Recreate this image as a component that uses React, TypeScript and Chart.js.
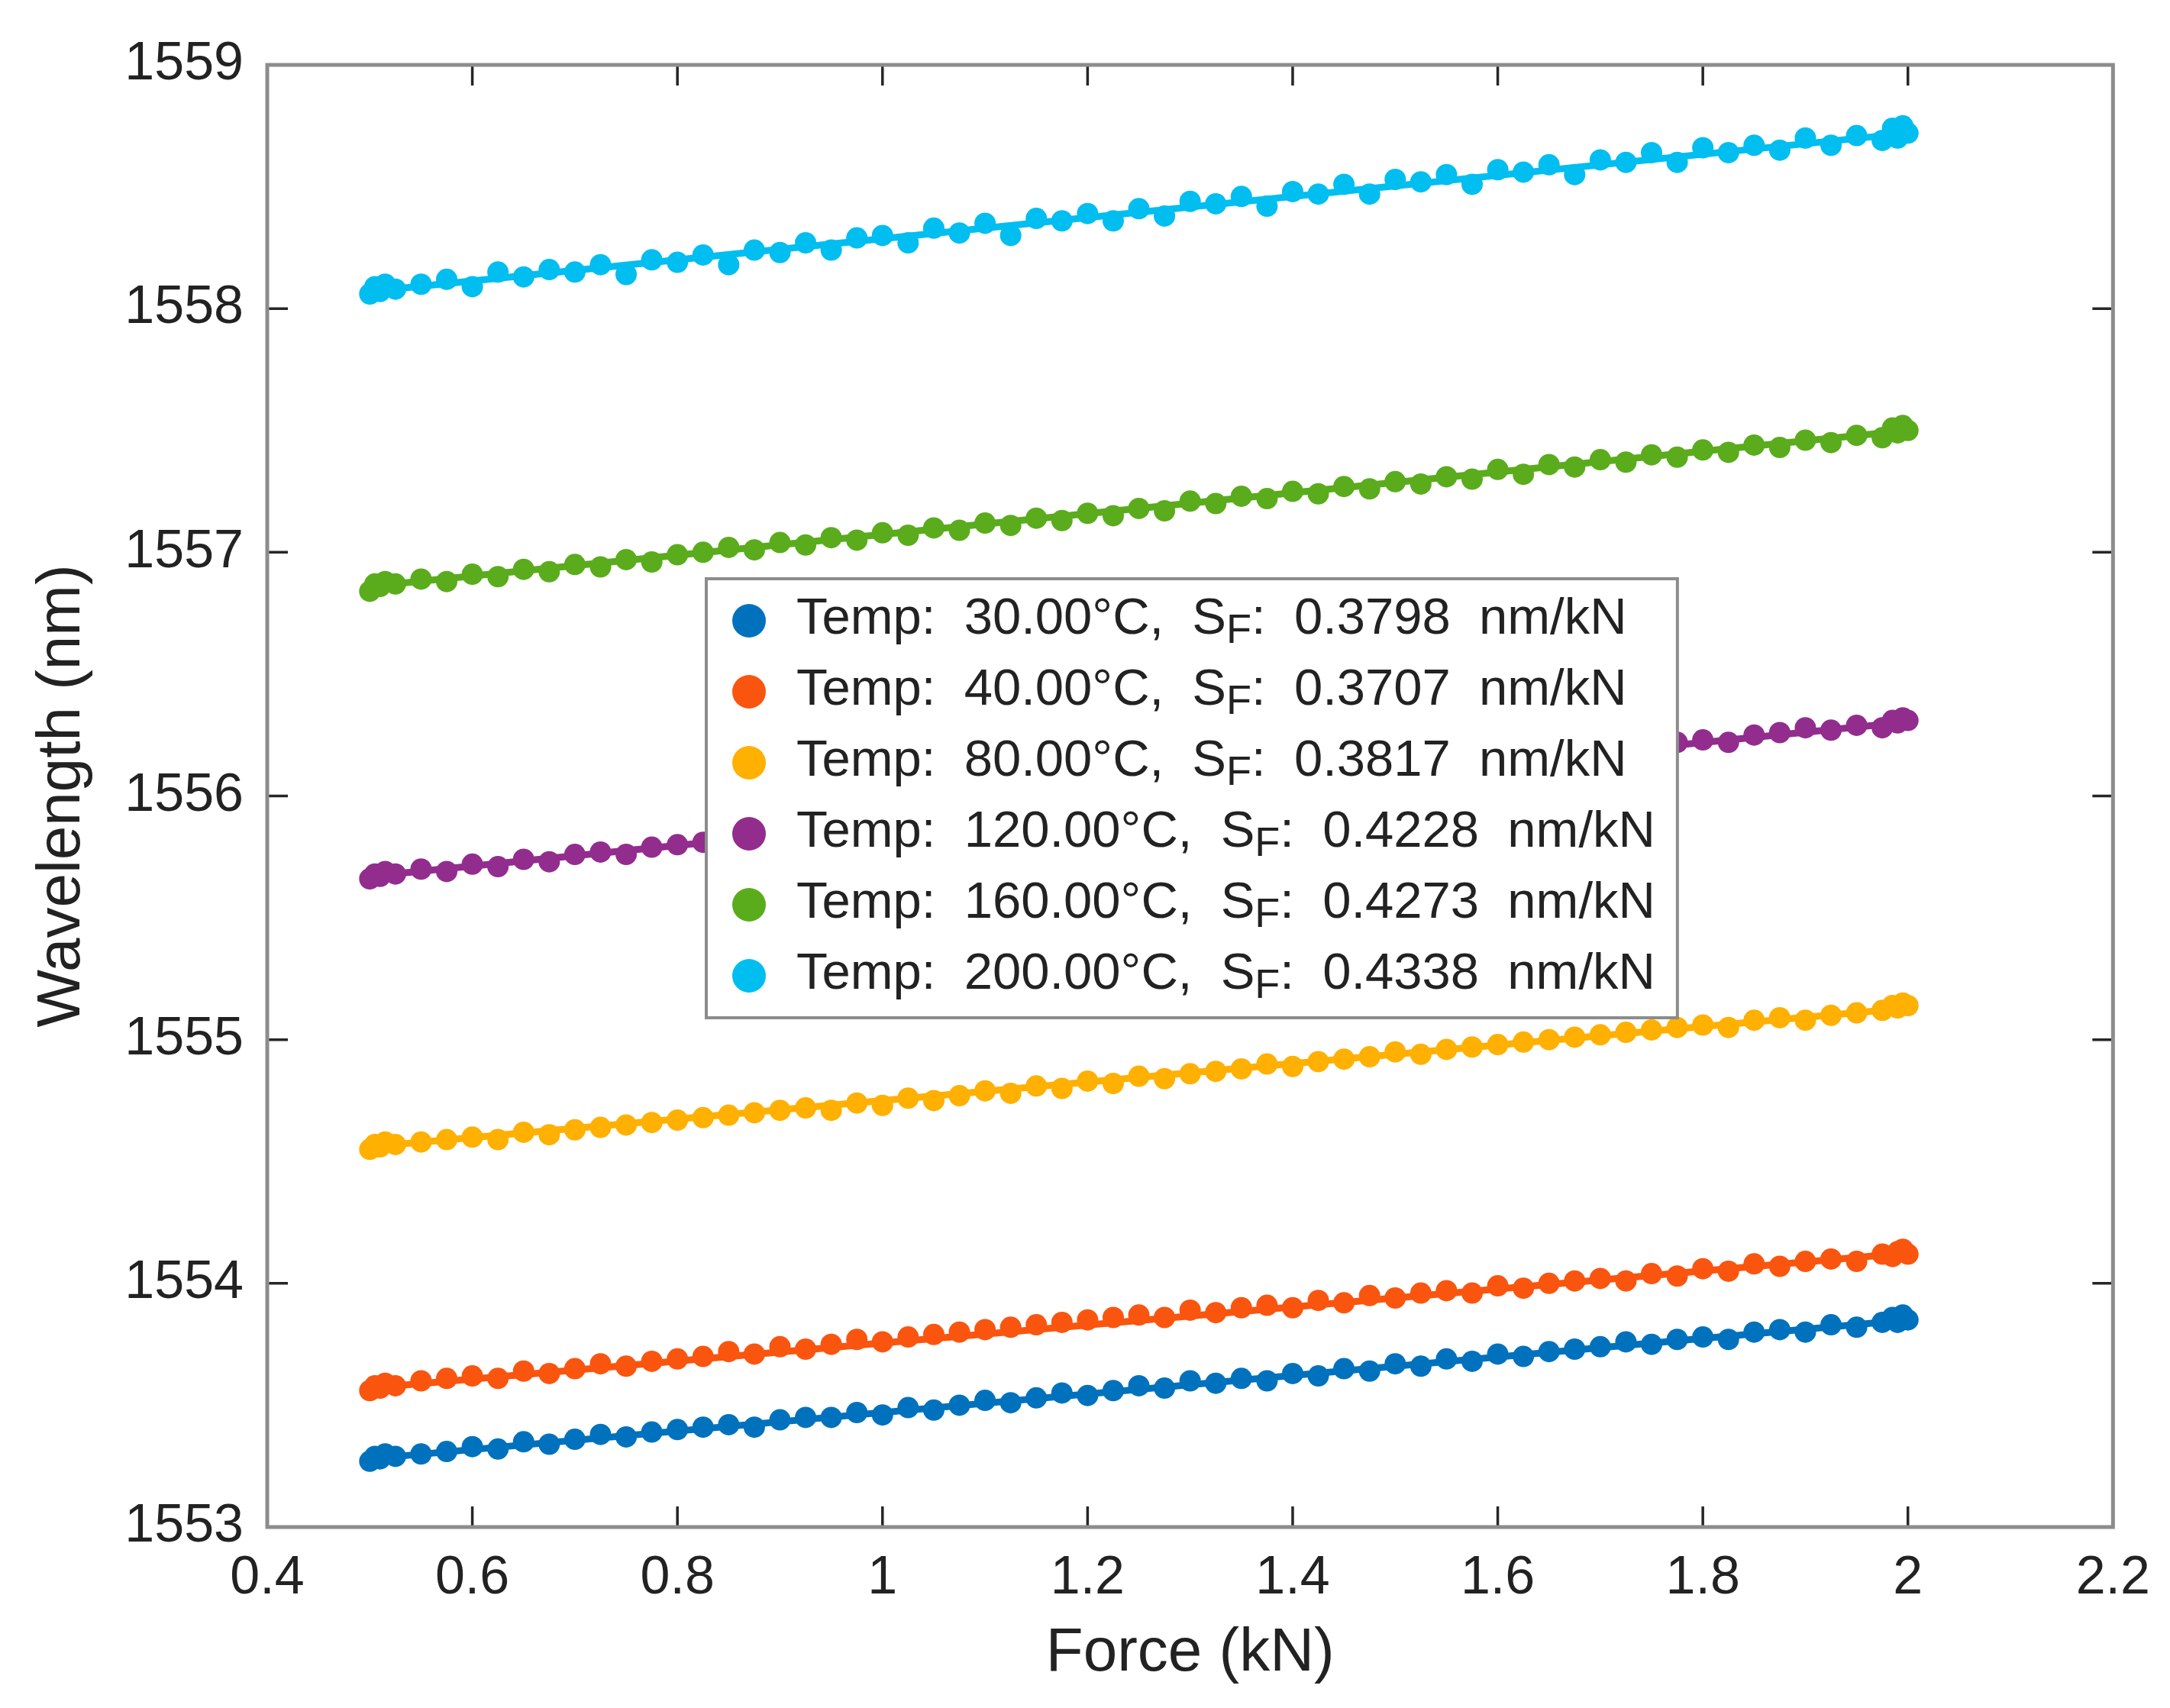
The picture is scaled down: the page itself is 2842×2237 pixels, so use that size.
import { useEffect, useRef } from "react"
import { Chart, registerables, type Plugin } from "chart.js"

Chart.register(...registerables)

// force steps (kN), shared by all temperature runs
const force = [
  0.5, 0.505, 0.51, 0.515, 0.525, 0.55, 0.575, 0.6, 0.625, 0.65, 0.675, 0.7, 0.725, 0.75, 0.775, 0.8, 0.825,
  0.85, 0.875, 0.9, 0.925, 0.95, 0.975, 1, 1.025, 1.05, 1.075, 1.1, 1.125, 1.15, 1.175, 1.2, 1.225, 1.25, 1.275,
  1.3, 1.325, 1.35, 1.375, 1.4, 1.425, 1.45, 1.475, 1.5, 1.525, 1.55, 1.575, 1.6, 1.625, 1.65, 1.675, 1.7, 1.725,
  1.75, 1.775, 1.8, 1.825, 1.85, 1.875, 1.9, 1.925, 1.95, 1.975, 1.985, 1.99, 1.995, 2,
]

// measured wavelengths (nm)
const wl30 = [
  1553.27, 1553.29, 1553.28, 1553.3, 1553.29, 1553.3, 1553.31, 1553.33, 1553.32, 1553.35, 1553.34, 1553.36,
  1553.38, 1553.37, 1553.39, 1553.4, 1553.41, 1553.42, 1553.41, 1553.44, 1553.45, 1553.45, 1553.47, 1553.46,
  1553.49, 1553.48, 1553.5, 1553.52, 1553.51, 1553.53, 1553.55, 1553.54, 1553.56, 1553.58, 1553.57, 1553.6,
  1553.59, 1553.61, 1553.6, 1553.63, 1553.62, 1553.65, 1553.64, 1553.67, 1553.66, 1553.69, 1553.68, 1553.71,
  1553.7, 1553.72, 1553.73, 1553.74, 1553.76, 1553.75, 1553.77, 1553.78, 1553.77, 1553.8, 1553.81, 1553.8,
  1553.83, 1553.82, 1553.84, 1553.86, 1553.84, 1553.87, 1553.85,
]
const wl40 = [
  1553.56, 1553.58, 1553.57, 1553.59, 1553.58, 1553.6, 1553.61, 1553.62, 1553.61, 1553.64, 1553.63, 1553.65,
  1553.67, 1553.66, 1553.68, 1553.69, 1553.7, 1553.72, 1553.71, 1553.74, 1553.73, 1553.75, 1553.77, 1553.76,
  1553.78, 1553.79, 1553.8, 1553.81, 1553.82, 1553.83, 1553.84, 1553.85, 1553.86, 1553.87, 1553.86, 1553.89,
  1553.88, 1553.9, 1553.91, 1553.9, 1553.93, 1553.92, 1553.95, 1553.94, 1553.96, 1553.97, 1553.96, 1553.99,
  1553.98, 1554.0, 1554.01, 1554.02, 1554.01, 1554.04, 1554.03, 1554.06, 1554.05, 1554.08, 1554.07, 1554.09,
  1554.1, 1554.09, 1554.12, 1554.11, 1554.13, 1554.14, 1554.12,
]
const wl80 = [
  1554.55, 1554.57, 1554.56, 1554.58, 1554.57, 1554.58, 1554.59, 1554.6, 1554.59, 1554.62, 1554.61, 1554.63,
  1554.64, 1554.65, 1554.66, 1554.67, 1554.68, 1554.69, 1554.7, 1554.71, 1554.72, 1554.71, 1554.74, 1554.73,
  1554.76, 1554.75, 1554.77, 1554.79, 1554.78, 1554.81, 1554.8, 1554.83, 1554.82, 1554.85, 1554.84, 1554.86,
  1554.87, 1554.88, 1554.9, 1554.89, 1554.91, 1554.92, 1554.93, 1554.95, 1554.94, 1554.96, 1554.97, 1554.98,
  1554.99, 1555.0, 1555.01, 1555.02, 1555.03, 1555.04, 1555.05, 1555.06, 1555.05, 1555.08, 1555.09, 1555.08,
  1555.1, 1555.11, 1555.12, 1555.14, 1555.13, 1555.15, 1555.14,
]
const wl120 = [
  1555.66, 1555.68, 1555.67, 1555.69, 1555.68, 1555.7, 1555.69, 1555.72, 1555.71, 1555.74, 1555.73, 1555.76,
  1555.77, 1555.76, 1555.79, 1555.8, 1555.81, 1555.82, 1555.83, 1555.85, 1555.84, 1555.87, 1555.86, 1555.89,
  1555.88, 1555.91, 1555.92, 1555.93, 1555.94, 1555.95, 1555.96, 1555.97, 1555.98, 1555.99, 1556.0, 1556.01,
  1556.02, 1556.03, 1556.04, 1556.05, 1556.06, 1556.07, 1556.08, 1556.09, 1556.1, 1556.12, 1556.13, 1556.14,
  1556.15, 1556.16, 1556.17, 1556.18, 1556.19, 1556.2, 1556.22, 1556.23, 1556.22, 1556.25, 1556.26, 1556.28,
  1556.27, 1556.29, 1556.28, 1556.31, 1556.3, 1556.32, 1556.31,
]
const wl160 = [
  1556.84, 1556.87, 1556.86, 1556.88, 1556.87, 1556.89, 1556.88, 1556.91, 1556.9, 1556.93, 1556.92, 1556.95,
  1556.94, 1556.97, 1556.96, 1556.99, 1557.0, 1557.02, 1557.01, 1557.04, 1557.03, 1557.06, 1557.05, 1557.08,
  1557.07, 1557.1, 1557.09, 1557.12, 1557.11, 1557.14, 1557.13, 1557.16, 1557.15, 1557.18, 1557.17, 1557.21,
  1557.2, 1557.23, 1557.22, 1557.25, 1557.24, 1557.27, 1557.26, 1557.29, 1557.28, 1557.31, 1557.3, 1557.34,
  1557.32, 1557.36, 1557.35, 1557.38, 1557.37, 1557.4, 1557.39, 1557.42, 1557.41, 1557.44, 1557.43, 1557.46,
  1557.45, 1557.48, 1557.47, 1557.51, 1557.49, 1557.52, 1557.5,
]
const wl200 = [
  1558.06, 1558.09, 1558.07, 1558.1, 1558.08, 1558.1, 1558.12, 1558.09, 1558.15, 1558.13, 1558.16, 1558.15,
  1558.18, 1558.14, 1558.2, 1558.19, 1558.22, 1558.18, 1558.24, 1558.23, 1558.27, 1558.24, 1558.29, 1558.3,
  1558.27, 1558.33, 1558.31, 1558.35, 1558.3, 1558.37, 1558.36, 1558.39, 1558.36, 1558.41, 1558.38, 1558.44,
  1558.43, 1558.46, 1558.42, 1558.48, 1558.47, 1558.51, 1558.47, 1558.53, 1558.52, 1558.55, 1558.51, 1558.57,
  1558.56, 1558.59, 1558.55, 1558.61, 1558.6, 1558.64, 1558.6, 1558.66, 1558.64, 1558.67, 1558.65, 1558.7,
  1558.67, 1558.71, 1558.69, 1558.74, 1558.7, 1558.75, 1558.72,
]

// linear fits, read at both ends of the force range
const fitForce = [0.5, 2]
const fit30 = [1553.28, 1553.85]
const fit40 = [1553.57, 1554.125]
const fit80 = [1554.56, 1555.13]
const fit120 = [1555.67, 1556.304]
const fit160 = [1556.86, 1557.5]
const fit200 = [1558.07, 1558.72]

const temps = [30, 40, 80, 120, 160, 200]
const sensitivities = [0.3798, 0.3707, 0.3817, 0.4228, 0.4273, 0.4338]
const colors = ["#0072BD", "#FA550F", "#FFB000", "#922D8E", "#5AAC1C", "#00BEF0"]

const xTickValues = [0.4, 0.6, 0.8, 1, 1.2, 1.4, 1.6, 1.8, 2, 2.2]
const yTickValues = [1553, 1554, 1555, 1556, 1557, 1558, 1559]

const FONT = '"Liberation Sans", Arial, Helvetica, sans-serif'
const TEXT = "#222222"
const AXIS_GRAY = "#8c8c8c"

const measured = [wl30, wl40, wl80, wl120, wl160, wl200]
const fits = [fit30, fit40, fit80, fit120, fit160, fit200]

// MATLAB-like box: inward ticks on all four sides, then legend on top
const boxAndLegend: Plugin = {
  id: "boxAndLegend",
  afterDraw(chart) {
    const { ctx, chartArea: a } = chart
    const xs = chart.scales.x
    const ys = chart.scales.y
    const tick = 27

    ctx.save()
    ctx.strokeStyle = "#262626"
    ctx.lineWidth = 3.5
    ctx.beginPath()
    xs.ticks.forEach((t) => {
      const px = xs.getPixelForValue(t.value)
      ctx.moveTo(px, a.bottom)
      ctx.lineTo(px, a.bottom - tick)
      ctx.moveTo(px, a.top)
      ctx.lineTo(px, a.top + tick)
    })
    ys.ticks.forEach((t) => {
      const py = ys.getPixelForValue(t.value)
      ctx.moveTo(a.left, py)
      ctx.lineTo(a.left + tick, py)
      ctx.moveTo(a.right, py)
      ctx.lineTo(a.right - tick, py)
    })
    ctx.stroke()

    ctx.strokeStyle = AXIS_GRAY
    ctx.lineWidth = 5
    ctx.strokeRect(a.left, a.top, a.right - a.left, a.bottom - a.top)

    // legend
    const size = 67
    const subSize = Math.round(size * 0.8)
    const left = a.left + 575
    const top = a.top + 673
    const rowH = 93
    const firstRow = 55
    const textOff = 118
    const rows = temps.map((t, i) => ({
      pre: `Temp:  ${t.toFixed(2)}°C,  S`,
      post: `:  ${sensitivities[i].toFixed(4)}  nm/kN`,
    }))
    const widths = rows.map((r) => {
      ctx.font = `${size}px ${FONT}`
      const w1 = ctx.measureText(r.pre).width
      const w3 = ctx.measureText(r.post).width
      ctx.font = `${subSize}px ${FONT}`
      const w2 = ctx.measureText("F").width
      return w1 + w2 + w3
    })
    const boxW = textOff + Math.max(...widths) + 29
    const boxH = firstRow * 2 + rowH * (rows.length - 1)

    ctx.fillStyle = "#ffffff"
    ctx.fillRect(left, top, boxW, boxH)
    ctx.strokeStyle = AXIS_GRAY
    ctx.lineWidth = 4
    ctx.strokeRect(left, top, boxW, boxH)

    rows.forEach((r, i) => {
      const cy = top + firstRow + i * rowH
      ctx.fillStyle = colors[i]
      ctx.beginPath()
      ctx.arc(left + 56, cy, 22, 0, Math.PI * 2)
      ctx.fill()

      ctx.fillStyle = TEXT
      ctx.textBaseline = "alphabetic"
      ctx.textAlign = "left"
      const base = cy + 17
      let x = left + textOff
      ctx.font = `${size}px ${FONT}`
      ctx.fillText(r.pre, x, base)
      x += ctx.measureText(r.pre).width
      ctx.font = `${subSize}px ${FONT}`
      ctx.fillText("F", x, base + 12)
      x += ctx.measureText("F").width
      ctx.font = `${size}px ${FONT}`
      ctx.fillText(r.post, x, base)
    })
    ctx.restore()
  },
}

export default function App() {
  const canvasRef = useRef<HTMLCanvasElement>(null)

  useEffect(() => {
    if (!canvasRef.current) return

    const scatterSets = measured.map((vals, i) => ({
      type: "scatter" as const,
      label: `Temp: ${temps[i]}°C`,
      data: vals.map((v, j) => ({ x: force[j], y: v })),
      backgroundColor: colors[i],
      borderWidth: 0,
      pointRadius: 14,
      showLine: false,
    }))
    const fitSets = fits.map((vals, i) => ({
      type: "scatter" as const,
      label: `fit ${temps[i]}`,
      data: vals.map((v, j) => ({ x: fitForce[j], y: v })),
      borderColor: colors[i],
      borderWidth: 9,
      pointRadius: 0,
      showLine: true,
    }))

    const tickFont = { family: FONT, size: 70 }
    const titleFont = { family: FONT, size: 80 }

    const chart = new Chart(canvasRef.current, {
      type: "scatter",
      data: { datasets: [...scatterSets, ...fitSets] as any },
      options: {
        animation: false,
        responsive: false,
        devicePixelRatio: 1,
        layout: { padding: { top: 85, right: 72, left: 0, bottom: 0 } },
        plugins: { legend: { display: false }, tooltip: { enabled: false } },
        scales: {
          x: {
            type: "linear",
            min: 0.4,
            max: 2.2,
            afterBuildTicks: (s: any) => {
              s.ticks = xTickValues.map((v) => ({ value: v }))
            },
            afterFit: (s: any) => {
              s.height = 237
            },
            ticks: {
              font: tickFont,
              color: TEXT,
              padding: 26,
              maxRotation: 0,
              autoSkip: false,
              callback: (v: any) => String(Number(Number(v).toFixed(1))),
            },
            grid: { display: false, drawTicks: false },
            border: { display: false },
            title: { display: true, text: "Force (kN)", font: titleFont, color: TEXT, padding: { top: 0, bottom: 23 } },
          },
          y: {
            type: "linear",
            min: 1553,
            max: 1559,
            afterBuildTicks: (s: any) => {
              s.ticks = yTickValues.map((v) => ({ value: v }))
            },
            afterFit: (s: any) => {
              s.width = 350
            },
            ticks: {
              font: tickFont,
              color: TEXT,
              padding: 31,
              autoSkip: false,
              callback: (v: any) => String(v),
            },
            grid: { display: false, drawTicks: false },
            border: { display: false },
            title: {
              display: true,
              text: "Wavelength (nm)",
              font: titleFont,
              color: TEXT,
              padding: { top: 34, bottom: 0 },
            },
          },
        },
      },
      plugins: [boxAndLegend],
    })

    return () => chart.destroy()
  }, [])

  return (
    <div style={{ position: "absolute", left: 0, top: 0, width: 2842, height: 2237, background: "#fff" }}>
      <canvas ref={canvasRef} width={2842} height={2237} style={{ display: "block" }} />
    </div>
  )
}
